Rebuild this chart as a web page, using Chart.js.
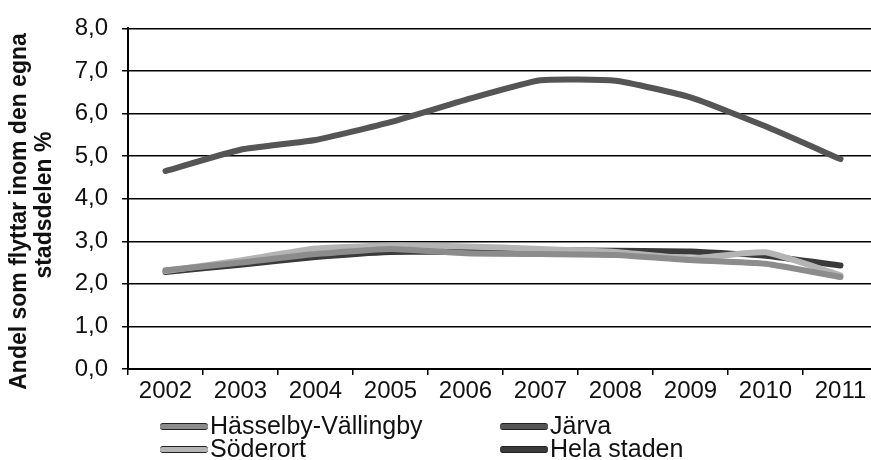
<!DOCTYPE html>
<html>
<head>
<meta charset="utf-8">
<script src="https://cdn.jsdelivr.net/npm/chart.js@4.4.1/dist/chart.umd.min.js"></script>
<style>
  html, body { margin: 0; padding: 0; background: #fff; overflow: hidden; }
  #wrap { position: relative; width: 871px; height: 460px; overflow: hidden; }
  #box { position: absolute; left: 0; top: 0; width: 890px; height: 460px; }
  .leg { position: absolute; font-family: "Liberation Sans", Arial, sans-serif; font-size: 25px; line-height: 24px; color: #111; white-space: nowrap; }
  .leg span.sw { display: inline-block; width: 48px; height: 5px; vertical-align: middle; margin-right: 2px; position: relative; top: -1px; border-top: 1px solid #222; border-bottom: 1px solid #222; border-radius: 3px; }
</style>
</head>
<body>
<div id="wrap">
  <div id="box"><canvas id="chart-area"></canvas></div>
  <div id="legend"></div>
</div>
<script>
var years = ['2002', '2003', '2004', '2005', '2006', '2007', '2008', '2009', '2010', '2011'];
var seriesNames = ['Hässelby-Vällingby', 'Järva', 'Söderort', 'Hela staden'];
var hasselby = [2.32, 2.50, 2.70, 2.82, 2.72, 2.70, 2.68, 2.56, 2.47, 2.16];
var jarva = [4.65, 5.15, 5.38, 5.80, 6.32, 6.78, 6.77, 6.38, 5.70, 4.93];
var soderort = [2.30, 2.55, 2.83, 2.90, 2.88, 2.82, 2.75, 2.60, 2.74, 2.20];
var helaStaden = [2.28, 2.45, 2.63, 2.75, 2.75, 2.78, 2.78, 2.76, 2.66, 2.43];
var yTicks = [0, 1, 2, 3, 4, 5, 6, 7, 8];

var lineColors = ['#8c8c8c', '#555555', '#b4b4b4', '#3a3a3a'];
var allSeries = [hasselby, jarva, soderort, helaStaden];

var datasets = [];
for (var i = 0; i < allSeries.length; i++) {
    datasets.push({
        label: seriesNames[i],
        data: allSeries[i],
        borderColor: lineColors[i],
        borderWidth: 6,
        pointRadius: 0,
        tension: 0.15,
        borderCapStyle: 'round',
        fill: false
    });
}

// legend in two columns, like the original
var legendPos = [[160, 413], [500, 413], [160, 436], [500, 436]];
var legendHtml = '';
for (var j = 0; j < seriesNames.length; j++) {
    legendHtml += '<div class="leg" style="left:' + legendPos[j][0] + 'px;top:' + legendPos[j][1] + 'px">' +
        '<span class="sw" style="background:' + lineColors[j] + '"></span>' + seriesNames[j] + '</div>';
}
document.getElementById('legend').innerHTML = legendHtml;

var fontFamily = '"Liberation Sans", Arial, sans-serif';

var config = {
    type: 'line',
    data: { labels: years, datasets: datasets },
    options: {
        responsive: true,
        maintainAspectRatio: false,
        animation: false,
        layout: { padding: { left: 0, right: 12, top: 25, bottom: 60 } },
        plugins: {
            legend: { display: false },
            tooltip: { enabled: false }
        },
        scales: {
            x: {
                offset: true,
                grid: { display: true, offset: true, drawOnChartArea: false, drawTicks: true, tickLength: 6, color: '#000', lineWidth: 1.5 },
                border: { display: true, color: '#000', width: 2 },
                ticks: { color: '#111', padding: 2, maxRotation: 0, autoSkip: false, font: { family: fontFamily, size: 24 } },
                afterFit: function (scale) { scale.height = 31; }
            },
            y: {
                min: 0,
                max: 8,
                afterBuildTicks: function (scale) {
                    scale.ticks = yTicks.map(function (v) { return { value: v }; });
                },
                grid: { color: '#000', lineWidth: 1.5, drawTicks: true, tickLength: 6 },
                border: { display: true, color: '#000', width: 2 },
                ticks: {
                    color: '#111',
                    padding: 14,
                    font: { family: fontFamily, size: 24 },
                    callback: function (v) { return v.toFixed(1).replace('.', ','); }
                },
                title: {
                    display: true,
                    text: ['Andel som flyttar inom den egna    ', 'stadsdelen %  '],
                    color: '#111',
                    padding: { top: 7, bottom: 0 },
                    font: { family: fontFamily, size: 23, weight: 'bold', lineHeight: 1.1 }
                },
                afterFit: function (scale) { scale.width = 128; }
            }
        }
    }
};

var ctx = document.getElementById('chart-area').getContext('2d');
window.myLine = new Chart(ctx, config);
</script>
</body>
</html>
